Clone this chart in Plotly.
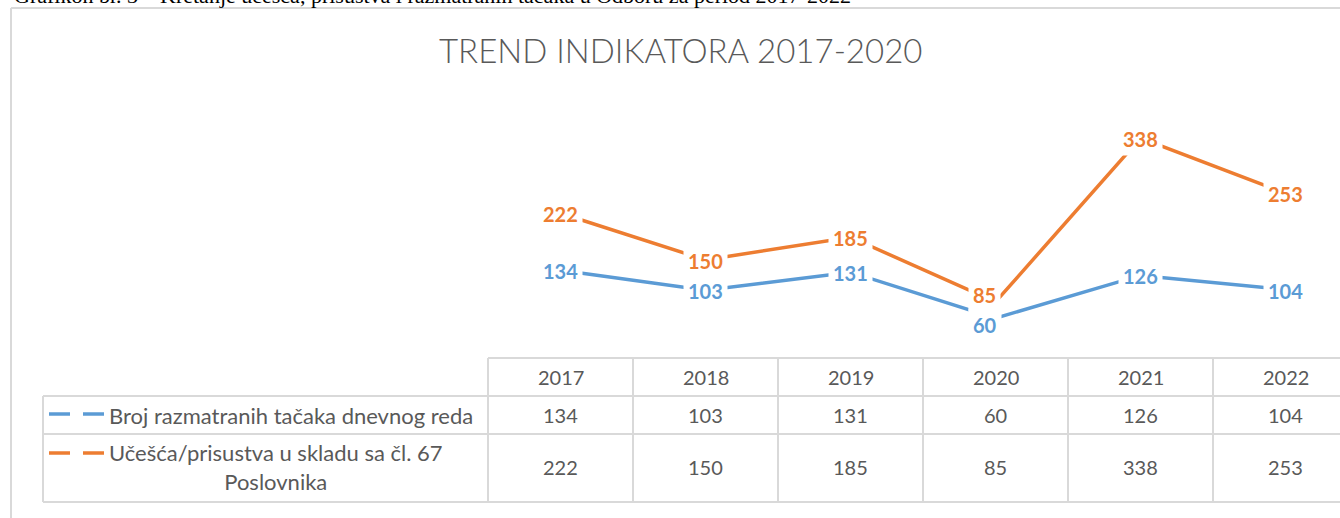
import plotly.graph_objects as go

years = ["2017", "2018", "2019", "2020", "2021", "2022"]
series_names = ["Broj razmatranih tačaka dnevnog reda",
                "Učešća/prisustva u skladu sa čl. 67<br>Poslovnika"]
broj_tacaka = [134, 103, 131, 60, 126, 104]
ucesca = [222, 150, 185, 85, 338, 253]
title_text = "TREND INDIKATORA 2017-2020"
caption_text = "Grafikon br. 3 – Kretanje učešća, prisustva i razmatranih tačaka u Odboru za period 2017-2022"

BLUE = "#5B9BD5"
ORANGE = "#ED7D31"
GRID = "#D9D9D9"
TXT = "#595959"
W, H = 1340, 518

def px(x):
    return x / W

def py(y):
    return 1 - y / H

fig = go.Figure()
series = [(broj_tacaka, BLUE, series_names[0]), (ucesca, ORANGE, series_names[1])]
for vals, col, name in series:
    fig.add_trace(go.Scatter(x=years, y=vals, mode="lines", name=name,
                             line=dict(color=col, width=3.5), showlegend=False,
                             hoverinfo="skip"))

# data labels (category index positions)
label_shift = {(0, 3): (-11, -7), (1, 3): (-11, 7)}
for si, (vals, col, name) in enumerate(series):
    for i, v in enumerate(vals):
        dx, dy = label_shift.get((si, i), (0, -1))
        fig.add_annotation(x=i, y=v, xref="x", yref="y", text=f"<b>{v}</b>",
                           showarrow=False, bgcolor="white", borderpad=4,
                           xanchor="center", yanchor="middle",
                           xshift=dx, yshift=dy,
                           font=dict(family="Lato", size=20, color=col))

shapes = []
def hline(x0, x1, y):
    shapes.append(dict(type="line", xref="paper", yref="paper", x0=px(x0), x1=px(x1),
                       y0=py(y), y1=py(y), line=dict(color=GRID, width=2)))
def vline(x, y0, y1):
    shapes.append(dict(type="line", xref="paper", yref="paper", x0=px(x), x1=px(x),
                       y0=py(y0), y1=py(y1), line=dict(color=GRID, width=2)))

# outer chart border
hline(11, 1345, 8)
vline(11, 8, 525)

# table grid
col_left = 488
col_w = 145
hline(col_left, 1345, 358)
for y in (396, 434, 502):
    hline(43, 1345, y)
vline(43, 396, 502)
for k in range(len(years)):
    vline(col_left + k * col_w, 358, 502)

def cell(x, y, text, size=20, xanchor="center"):
    fig.add_annotation(x=px(x), y=py(y), xref="paper", yref="paper", text=text,
                       showarrow=False, xanchor=xanchor, yanchor="middle", align="center",
                       font=dict(family="Lato", size=size, color=TXT))

row_y = [377, 415, 467]
for k, yr in enumerate(years):
    cx = col_left + col_w * (k + 0.5)
    cell(cx, row_y[0], yr)
    cell(cx, row_y[1], str(broj_tacaka[k]))
    cell(cx, row_y[2], str(ucesca[k]))

# legend keys + row labels
for (vals, col, name), ky in zip(series, (414, 453)):
    for a, b in ((49, 70), (83, 104)):
        shapes.append(dict(type="line", xref="paper", yref="paper", x0=px(a), x1=px(b),
                           y0=py(ky), y1=py(ky), line=dict(color=col, width=3.5)))
cell(107, 415, series_names[0], size=22, xanchor="left")
cell(276, 467, series_names[1], size=22)

# title
fig.add_annotation(x=px(680), y=py(50), xref="paper", yref="paper", text=title_text,
                   showarrow=False, xanchor="center", yanchor="middle",
                   font=dict(family="Lato", size=33, color=TXT, weight=300))
# cut-off caption above the chart
fig.add_annotation(x=px(12), y=py(4), xref="paper", yref="paper", text=caption_text,
                   xanchor="left", yanchor="bottom", showarrow=False, yshift=-6,
                   font=dict(family="Liberation Serif", size=22, color="black"))

fig.update_layout(
    width=W, height=H, margin=dict(l=0, r=0, t=0, b=0),
    paper_bgcolor="white", plot_bgcolor="white", shapes=shapes,
    xaxis=dict(domain=[488 / W, 1], range=[-0.5, -0.5 + (W - 488) / col_w],
               visible=False, type="category"),
    yaxis=dict(domain=[1 - 357 / H, 1 - 98 / H], range=[0, 400], visible=False),
)
fig.write_html("out.html", config={"displayModeBar": False},
               post_script="document.body.style.margin='0';")
